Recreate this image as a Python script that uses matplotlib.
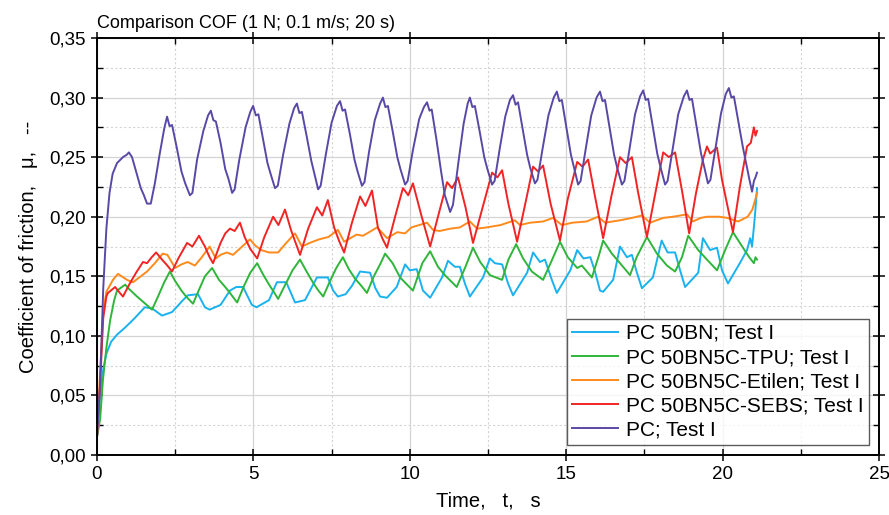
import numpy as np
import matplotlib
matplotlib.use("Agg")
import matplotlib.pyplot as plt
from matplotlib.ticker import MultipleLocator, FuncFormatter

plt.rcParams['font.family'] = ['Liberation Sans', 'DejaVu Sans']

# series data (time in s, coefficient of friction)
t_bn = [0.0, 0.1, 0.2, 0.3, 0.45, 0.64, 0.9, 1.21, 1.53, 1.76, 2.08, 2.4, 2.75, 2.9, 3.23, 3.45, 3.6,
        3.95, 4.25, 4.45, 4.67, 4.95, 5.1, 5.5, 5.75, 6.05, 6.2, 6.33, 6.65, 7.03, 7.38, 7.55, 7.7,
        7.95, 8.15, 8.41, 8.73, 8.9, 9.05, 9.27, 9.58, 9.85, 10.0, 10.22, 10.42, 10.65, 11.03, 11.22,
        11.44, 11.6, 11.76, 11.92, 12.34, 12.56, 12.72, 12.95, 13.14, 13.3, 13.75, 13.94, 14.16,
        14.32, 14.54, 14.7, 15.13, 15.35, 15.55, 15.77, 15.92, 16.08, 16.18, 16.5, 16.72, 16.94,
        17.1, 17.26, 17.42, 17.77, 18.05, 18.24, 18.48, 18.64, 18.8, 19.22, 19.37, 19.6, 19.82,
        19.98, 20.17, 20.55, 20.78, 20.88, 20.94, 21.03, 21.1]
cof_bn = [0.015, 0.05, 0.072, 0.085, 0.095, 0.101, 0.107, 0.115, 0.124, 0.123, 0.117, 0.120, 0.130,
          0.134, 0.135, 0.124, 0.122, 0.126, 0.138, 0.141, 0.141, 0.126, 0.124, 0.130, 0.145, 0.145,
          0.136, 0.128, 0.130, 0.149, 0.149, 0.138, 0.133, 0.135, 0.142, 0.154, 0.153, 0.140, 0.133,
          0.132, 0.141, 0.160, 0.155, 0.156, 0.138, 0.132, 0.149, 0.163, 0.158, 0.158, 0.144, 0.133,
          0.149, 0.165, 0.161, 0.160, 0.144, 0.134, 0.153, 0.170, 0.162, 0.164, 0.147, 0.136, 0.155,
          0.172, 0.165, 0.166, 0.154, 0.138, 0.137, 0.147, 0.175, 0.166, 0.168, 0.153, 0.140, 0.149,
          0.180, 0.170, 0.170, 0.155, 0.141, 0.153, 0.182, 0.172, 0.174, 0.155, 0.144, 0.161, 0.172,
          0.182, 0.175, 0.200, 0.224]

t_tpu = [0.0, 0.1, 0.19, 0.3, 0.42, 0.55, 0.64, 0.9, 1.0, 1.28, 1.5, 1.76, 1.95, 2.15, 2.33, 2.5,
         2.7, 2.85, 3.07, 3.25, 3.45, 3.68, 3.9, 4.1, 4.25, 4.48, 4.7, 4.9, 5.12, 5.3, 5.5, 5.65,
         5.79, 6.0, 6.25, 6.49, 6.7, 6.9, 7.05, 7.23, 7.45, 7.65, 7.86, 8.05, 8.25, 8.45, 8.63, 8.85,
         9.05, 9.21, 9.45, 9.69, 10.1, 10.4, 10.65, 10.9, 11.12, 11.5, 11.78, 12.02, 12.25, 12.56,
         12.95, 13.15, 13.4, 13.62, 13.9, 14.26, 14.55, 14.8, 15.05, 15.35, 15.5, 15.82, 16.05,
         16.18, 16.46, 16.72, 17.04, 17.25, 17.58, 17.9, 18.22, 18.48, 18.7, 18.9, 19.22, 19.5,
         19.82, 20.08, 20.33, 20.65, 20.85, 21.0, 21.05, 21.1]
cof_tpu = [0.015, 0.03, 0.063, 0.09, 0.113, 0.130, 0.138, 0.143, 0.140, 0.133, 0.128, 0.122, 0.133,
           0.145, 0.154, 0.146, 0.138, 0.133, 0.127, 0.138, 0.150, 0.157, 0.147, 0.141, 0.136, 0.128,
           0.142, 0.153, 0.161, 0.152, 0.143, 0.137, 0.131, 0.142, 0.155, 0.164, 0.154, 0.145, 0.139,
           0.133, 0.146, 0.157, 0.166, 0.156, 0.148, 0.142, 0.136, 0.150, 0.160, 0.169, 0.161, 0.149,
           0.138, 0.161, 0.171, 0.158, 0.151, 0.141, 0.158, 0.174, 0.162, 0.151, 0.147, 0.164, 0.177,
           0.165, 0.154, 0.147, 0.164, 0.179, 0.166, 0.157, 0.159, 0.149, 0.168, 0.180, 0.169, 0.161,
           0.151, 0.166, 0.183, 0.169, 0.159, 0.154, 0.166, 0.184, 0.172, 0.164, 0.155, 0.172, 0.187,
           0.174, 0.166, 0.161, 0.166, 0.164]

t_eti = [0.0, 0.1, 0.2, 0.3, 0.51, 0.67, 0.96, 1.15, 1.4, 1.6, 1.85, 2.1, 2.25, 2.5, 2.7, 2.9, 3.13,
         3.35, 3.6, 3.8, 3.95, 4.15, 4.35, 4.6, 4.89, 5.05, 5.25, 5.5, 5.79, 6.05, 6.33, 6.55, 6.8,
         7.1, 7.4, 7.7, 7.9, 8.1, 8.3, 8.5, 8.7, 8.95, 9.1, 9.27, 9.6, 9.85, 10.05, 10.55, 10.74,
         10.95, 11.3, 11.6, 11.92, 12.15, 12.45, 12.9, 13.36, 13.52, 13.85, 14.26, 14.58, 14.86,
         15.2, 15.65, 16.02, 16.24, 16.72, 17.1, 17.42, 17.68, 18.1, 18.42, 18.86, 19.05, 19.3,
         19.5, 19.9, 20.15, 20.5, 20.8, 20.95, 21.05, 21.1]
cof_eti = [0.015, 0.07, 0.12, 0.137, 0.147, 0.152, 0.147, 0.145, 0.150, 0.154, 0.161, 0.169, 0.168,
           0.157, 0.160, 0.162, 0.159, 0.166, 0.175, 0.165, 0.168, 0.170, 0.168, 0.174, 0.181, 0.176,
           0.172, 0.170, 0.170, 0.178, 0.186, 0.175, 0.178, 0.181, 0.183, 0.189, 0.179, 0.182, 0.185,
           0.184, 0.187, 0.191, 0.187, 0.182, 0.187, 0.186, 0.191, 0.195, 0.189, 0.188, 0.190, 0.191,
           0.196, 0.190, 0.191, 0.193, 0.197, 0.193, 0.195, 0.196, 0.199, 0.193, 0.195, 0.196, 0.200,
           0.195, 0.197, 0.199, 0.201, 0.195, 0.199, 0.200, 0.202, 0.196, 0.199, 0.200, 0.200, 0.199,
           0.196, 0.200, 0.206, 0.215, 0.220]

t_sebs = [0.0, 0.1, 0.2, 0.3, 0.35, 0.58, 0.7, 0.83, 1.05, 1.25, 1.47, 1.6, 1.75, 1.89, 2.08, 2.25,
          2.4, 2.6, 2.88, 3.05, 3.26, 3.45, 3.6, 3.71, 3.95, 4.1, 4.25, 4.4, 4.57, 4.72, 4.9, 5.12,
          5.35, 5.63, 5.8, 6.01, 6.2, 6.35, 6.49, 6.75, 7.03, 7.2, 7.38, 7.58, 7.75, 7.9, 8.15, 8.41,
          8.58, 8.79, 8.98, 9.12, 9.27, 9.55, 9.78, 9.95, 10.1, 10.38, 10.65, 10.95, 11.19, 11.35,
          11.54, 11.78, 12.02, 12.35, 12.63, 12.8, 12.95, 13.15, 13.43, 13.7, 13.94, 14.1, 14.26,
          14.5, 14.8, 15.05, 15.35, 15.52, 15.7, 15.92, 16.18, 16.45, 16.72, 16.9, 17.1, 17.3, 17.58,
          17.85, 18.1, 18.28, 18.48, 18.7, 18.93, 19.15, 19.37, 19.5, 19.6, 19.82, 19.98, 20.33,
          20.55, 20.78, 20.9, 21.0, 21.05, 21.1]
cof_sebs = [0.015, 0.06, 0.115, 0.133, 0.136, 0.141, 0.137, 0.133, 0.144, 0.153, 0.162, 0.161, 0.166,
            0.170, 0.164, 0.159, 0.154, 0.165, 0.178, 0.175, 0.184, 0.175, 0.166, 0.161, 0.178, 0.186,
            0.190, 0.188, 0.195, 0.183, 0.173, 0.165, 0.183, 0.200, 0.193, 0.206, 0.189, 0.178, 0.168,
            0.190, 0.208, 0.201, 0.214, 0.191, 0.179, 0.170, 0.195, 0.217, 0.209, 0.222, 0.191, 0.182,
            0.174, 0.202, 0.224, 0.218, 0.228, 0.200, 0.175, 0.205, 0.229, 0.224, 0.233, 0.208, 0.178,
            0.210, 0.237, 0.233, 0.239, 0.211, 0.179, 0.212, 0.242, 0.238, 0.243, 0.211, 0.180, 0.215,
            0.246, 0.242, 0.248, 0.217, 0.182, 0.218, 0.250, 0.245, 0.250, 0.220, 0.183, 0.220, 0.254,
            0.250, 0.254, 0.222, 0.186, 0.220, 0.248, 0.259, 0.253, 0.258, 0.231, 0.187, 0.225, 0.259,
            0.262, 0.275, 0.268, 0.272]

t_pc = [0.0, 0.1, 0.2, 0.3, 0.4, 0.5, 0.64, 0.83, 0.95, 1.02, 1.12, 1.25, 1.4, 1.5, 1.6, 1.72, 1.85,
        2.0, 2.15, 2.24, 2.32, 2.4, 2.55, 2.7, 2.82, 2.97, 3.05, 3.2, 3.4, 3.55, 3.64, 3.72, 3.8,
        3.95, 4.1, 4.2, 4.32, 4.4, 4.55, 4.75, 4.9, 4.99, 5.08, 5.16, 5.3, 5.45, 5.55, 5.69, 5.78,
        5.95, 6.15, 6.3, 6.39, 6.47, 6.55, 6.7, 6.85, 6.95, 7.07, 7.15, 7.32, 7.5, 7.67, 7.77, 7.85,
        7.93, 8.08, 8.23, 8.33, 8.47, 8.55, 8.7, 8.88, 9.05, 9.14, 9.22, 9.3, 9.45, 9.6, 9.7, 9.85,
        9.93, 10.1, 10.3, 10.45, 10.55, 10.63, 10.7, 10.85, 11.0, 11.12, 11.29, 11.38, 11.55, 11.72,
        11.85, 11.92, 12.0, 12.08, 12.23, 12.38, 12.48, 12.63, 12.71, 12.88, 13.05, 13.2, 13.3,
        13.38, 13.46, 13.6, 13.75, 13.85, 14.0, 14.08, 14.25, 14.43, 14.6, 14.7, 14.78, 14.86, 15.0,
        15.15, 15.25, 15.38, 15.46, 15.63, 15.8, 15.97, 16.08, 16.16, 16.24, 16.38, 16.53, 16.63,
        16.78, 16.86, 17.03, 17.2, 17.36, 17.46, 17.54, 17.62, 17.76, 17.91, 18.01, 18.16, 18.24,
        18.41, 18.58, 18.76, 18.86, 18.94, 19.02, 19.16, 19.31, 19.41, 19.53, 19.61, 19.78, 19.95,
        20.1, 20.2, 20.28, 20.36, 20.5, 20.65, 20.75, 20.85, 20.94, 21.0, 21.05, 21.1]
cof_pc = [0.015, 0.06, 0.14, 0.19, 0.22, 0.236, 0.245, 0.250, 0.252, 0.254, 0.250, 0.238, 0.224,
          0.218, 0.211, 0.211, 0.228, 0.252, 0.274, 0.284, 0.276, 0.277, 0.258, 0.238, 0.228, 0.218,
          0.220, 0.248, 0.272, 0.285, 0.289, 0.281, 0.280, 0.262, 0.240, 0.232, 0.220, 0.223, 0.248,
          0.275, 0.288, 0.293, 0.285, 0.286, 0.266, 0.245, 0.236, 0.224, 0.226, 0.252, 0.278, 0.291,
          0.295, 0.287, 0.288, 0.268, 0.247, 0.236, 0.223, 0.226, 0.253, 0.279, 0.293, 0.297, 0.289,
          0.290, 0.270, 0.248, 0.238, 0.226, 0.229, 0.255, 0.281, 0.295, 0.300, 0.292, 0.293, 0.272,
          0.250, 0.240, 0.227, 0.230, 0.256, 0.282, 0.292, 0.296, 0.289, 0.290, 0.265, 0.238, 0.218,
          0.204, 0.210, 0.245, 0.278, 0.295, 0.300, 0.292, 0.293, 0.272, 0.250, 0.240, 0.227, 0.230,
          0.258, 0.284, 0.298, 0.302, 0.294, 0.296, 0.275, 0.252, 0.241, 0.228, 0.231, 0.258, 0.285,
          0.300, 0.305, 0.297, 0.298, 0.276, 0.252, 0.241, 0.227, 0.230, 0.258, 0.285, 0.300, 0.305,
          0.297, 0.298, 0.276, 0.252, 0.241, 0.227, 0.230, 0.258, 0.286, 0.301, 0.306, 0.298, 0.299,
          0.277, 0.253, 0.242, 0.227, 0.230, 0.258, 0.286, 0.301, 0.306, 0.298, 0.299, 0.277, 0.253,
          0.242, 0.228, 0.231, 0.259, 0.287, 0.303, 0.308, 0.300, 0.301, 0.280, 0.258, 0.245, 0.232,
          0.221, 0.230, 0.233, 0.237]

labels = ["PC 50BN; Test I", "PC 50BN5C-TPU; Test I", "PC 50BN5C-Etilen; Test I",
          "PC 50BN5C-SEBS; Test I", "PC; Test I"]
colors = ["#19b2ef", "#2fb53a", "#ff8a1c", "#f02424", "#5a48a6"]


def comma_fmt(v, pos):
    return "{0:.2f}".format(v).replace(".", ",")


def main():
    fig = plt.figure(figsize=(8.89, 5.15), dpi=100)
    ax = fig.add_axes([0.1091, 0.1165, 0.8797, 0.8097])

    series = [(t_bn, cof_bn), (t_tpu, cof_tpu), (t_eti, cof_eti), (t_sebs, cof_sebs), (t_pc, cof_pc)]
    for (t, c), lab, col in zip(series, labels, colors):
        ax.plot(t, c, color=col, lw=1.4, label=lab, solid_joinstyle='round')

    ax.set_xlim(0, 25)
    ax.set_ylim(0, 0.35)
    ax.xaxis.set_major_locator(MultipleLocator(5))
    ax.xaxis.set_minor_locator(MultipleLocator(2.5))
    ax.yaxis.set_major_locator(MultipleLocator(0.05))
    ax.yaxis.set_minor_locator(MultipleLocator(0.025))
    ax.yaxis.set_major_formatter(FuncFormatter(comma_fmt))

    ax.grid(which='major', color='#d4d4d4', lw=0.9, ls='-')
    ax.grid(which='minor', color='#d4d4d4', lw=0.8, ls=(0, (2, 2)))
    ax.set_axisbelow(True)

    ax.tick_params(which='major', direction='inout', length=8, width=1.1, labelsize=13.5,
                   top=True, right=True, pad=4)
    ax.tick_params(which='minor', direction='in', length=4, width=1, top=True, right=True)
    for s in ax.spines.values():
        s.set_linewidth(1.4)

    ax.set_xlabel("Time,   t,   s", fontsize=14.5, labelpad=6)
    ax.set_ylabel("Coefficient of friction,   μ,   --", fontsize=14.5, labelpad=8)
    fig.text(0.1091, 0.945, "Comparison COF (1 N; 0.1 m/s; 20 s)", fontsize=13, ha='left', va='baseline')

    leg = ax.legend(loc='lower right', bbox_to_anchor=(0.987, 0.024), fontsize=15,
                    frameon=True, fancybox=False, edgecolor='#333333', handlelength=2.2,
                    labelspacing=0.25, borderpad=0.25, handletextpad=0.4, borderaxespad=0)
    leg.get_frame().set_linewidth(1.0)

    fig.savefig("out.png", dpi=100)


if __name__ == "__main__":
    main()
